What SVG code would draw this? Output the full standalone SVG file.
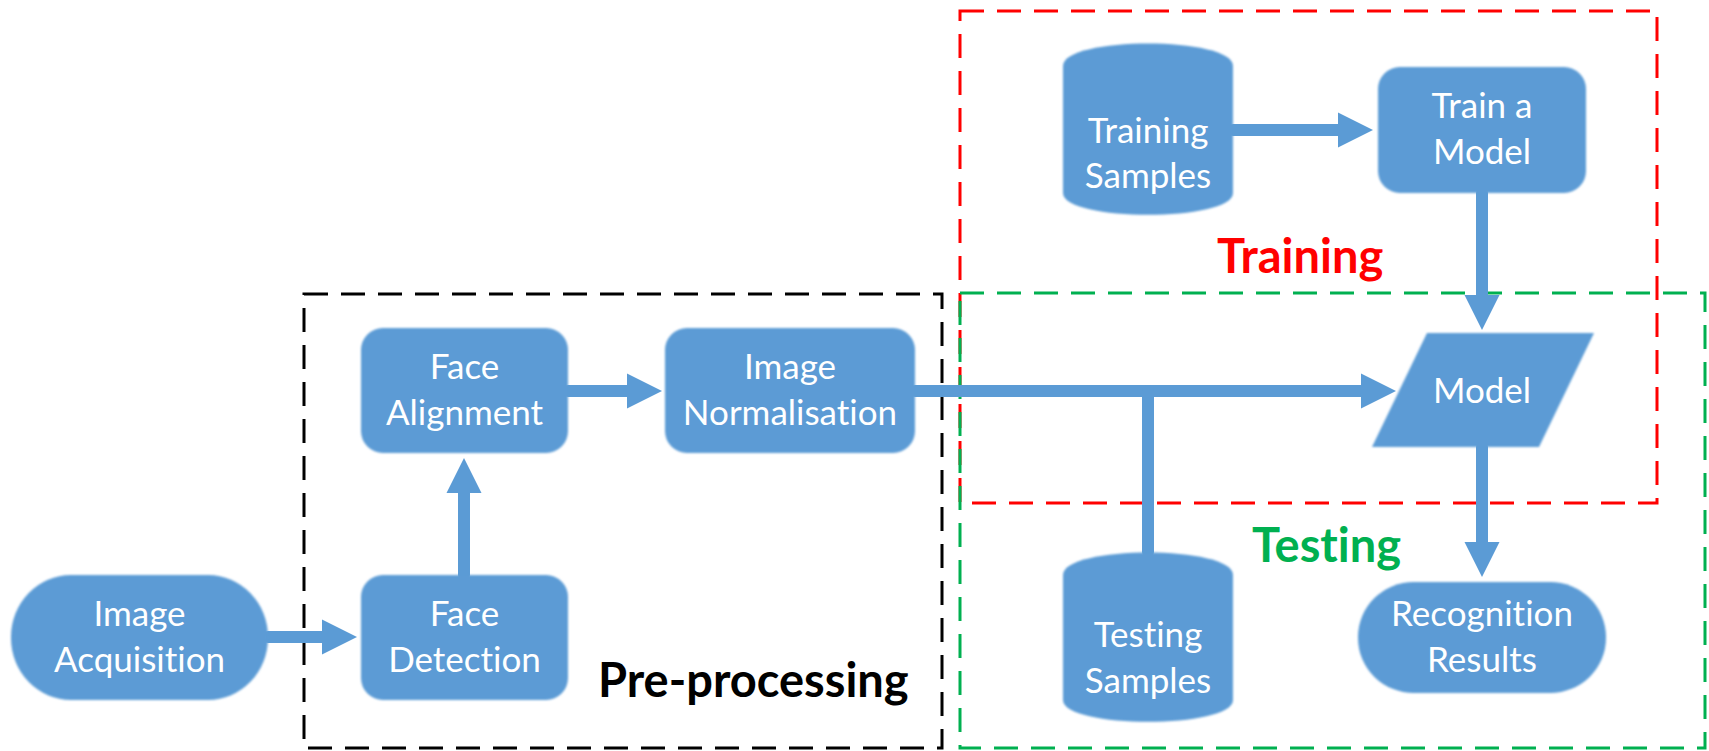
<svg xmlns="http://www.w3.org/2000/svg" width="1709" height="751" viewBox="0 0 1709 751">
<style>
.shape{fill:#5B9BD5;filter:url(#soft)}
.lbl{font-family:Lato,"Liberation Sans",sans-serif;font-size:35px;fill:#FFFFFF;text-anchor:middle;font-variant-ligatures:none}
.title{font-family:Lato,"Liberation Sans",sans-serif;font-size:47px;font-weight:bold;font-variant-ligatures:none}
.conn{stroke:#5B9BD5;stroke-width:12;fill:none;stroke-linecap:round}
.box{fill:none;stroke-width:3;stroke-dasharray:24 13}
</style>
<defs>
<filter id="soft" x="-5%" y="-5%" width="110%" height="110%"><feGaussianBlur stdDeviation="1"/></filter>
<marker id="ah" markerUnits="userSpaceOnUse" markerWidth="36" markerHeight="36" refX="0" refY="17.5" orient="auto" overflow="visible">
<path d="M0,0 L35,17.5 L0,35 z" fill="#5B9BD5"/>
</marker>
</defs>
<rect width="1709" height="751" fill="#FFFFFF"/>

<g id="group-boxes">
<rect class="box" x="304" y="294" width="638" height="454" stroke="#000000"/>
<rect class="box" x="960" y="11" width="697" height="492" stroke="#FF0000"/>
<rect class="box" x="960" y="293" width="745" height="455" stroke="#00B050"/>
<text class="title" x="598" y="697" fill="#000000">Pre-processing</text>
<text class="title" x="1217" y="273" fill="#FF0000">Training</text>
<text class="title" x="1252" y="562" fill="#00B050">Testing</text>
</g>

<g id="connectors">
<line class="conn" x1="268" y1="637" x2="322" y2="637" marker-end="url(#ah)"/>
<line class="conn" x1="464" y1="575" x2="464" y2="493" marker-end="url(#ah)"/>
<line class="conn" x1="568" y1="391" x2="627" y2="391" marker-end="url(#ah)"/>
<line class="conn" x1="915" y1="391" x2="1361" y2="391" marker-end="url(#ah)"/>
<line class="conn" x1="1148" y1="391" x2="1148" y2="552"/>
<line class="conn" x1="1233" y1="130" x2="1338" y2="130" marker-end="url(#ah)"/>
<line class="conn" x1="1482" y1="193" x2="1482" y2="295" marker-end="url(#ah)"/>
<line class="conn" x1="1482" y1="447" x2="1482" y2="542" marker-end="url(#ah)"/>
</g>

<g id="image-acquisition">
<rect class="shape" x="11" y="575" width="257" height="125" rx="60" ry="62"/>
<text class="lbl" x="139.5" y="626">Image</text>
<text class="lbl" x="139.5" y="672">Acquisition</text>
</g>

<g id="face-detection">
<rect class="shape" x="361" y="575" width="207" height="125" rx="22"/>
<text class="lbl" x="464.5" y="626">Face</text>
<text class="lbl" x="464.5" y="672">Detection</text>
</g>

<g id="face-alignment">
<rect class="shape" x="361" y="328" width="207" height="125" rx="22"/>
<text class="lbl" x="464.5" y="379">Face</text>
<text class="lbl" x="464.5" y="425">Alignment</text>
</g>

<g id="image-normalisation">
<rect class="shape" x="665" y="328" width="250" height="125" rx="22"/>
<text class="lbl" x="790" y="379">Image</text>
<text class="lbl" x="790" y="425">Normalisation</text>
</g>

<g id="training-samples">
<path class="shape" d="M1063,66 C1063,36 1233,36 1233,66 L1233,193 C1233,222 1063,222 1063,193 Z"/>
<text class="lbl" x="1148" y="143">Training</text>
<text class="lbl" x="1148" y="188">Samples</text>
</g>

<g id="train-a-model">
<rect class="shape" x="1378" y="67" width="208" height="126" rx="22"/>
<text class="lbl" x="1482" y="118">Train a</text>
<text class="lbl" x="1482" y="164">Model</text>
</g>

<g id="model">
<polygon class="shape" points="1427,333 1594,333 1539,447 1372,447"/>
<text class="lbl" x="1482" y="403">Model</text>
</g>

<g id="testing-samples">
<path class="shape" d="M1063,575 C1063,545 1233,545 1233,575 L1233,700 C1233,729 1063,729 1063,700 Z"/>
<text class="lbl" x="1148" y="647">Testing</text>
<text class="lbl" x="1148" y="693">Samples</text>
</g>

<g id="recognition-results">
<rect class="shape" x="1358" y="582" width="248" height="111" rx="56" ry="55"/>
<text class="lbl" x="1482" y="626">Recognition</text>
<text class="lbl" x="1482" y="672">Results</text>
</g>
</svg>
